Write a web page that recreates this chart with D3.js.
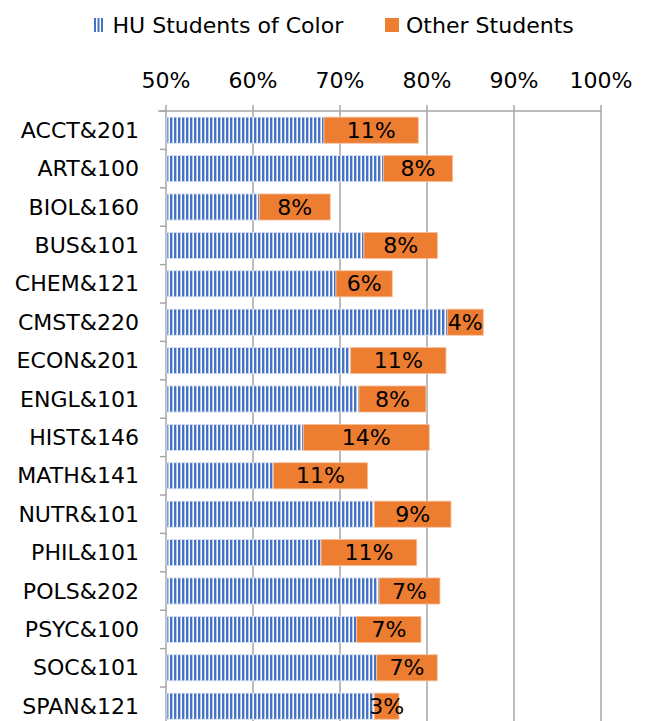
<!DOCTYPE html>
<html><head><meta charset="utf-8">
<script src="https://cdn.jsdelivr.net/npm/d3@7"></script>
<style>body{margin:0;background:#fff}svg{display:block}text{font-family:"DejaVu Sans",sans-serif;fill:#000}</style>
</head><body>
<script>
const categories = ["ACCT&201","ART&100","BIOL&160","BUS&101","CHEM&121","CMST&220","ECON&201","ENGL&101","HIST&146","MATH&141","NUTR&101","PHIL&101","POLS&202","PSYC&100","SOC&101","SPAN&121"];
const huValues   = [68.16,74.98,60.72,72.75,69.54,82.33,71.23,72.18,65.78,62.33,73.94,67.82,74.48,71.92,74.22,73.94];
const otherGap   = [10.84,7.97,8.16,8.45,6.47,4.14,10.95,7.70,14.48,10.85,8.82,11.0,7.01,7.39,6.96,2.84];
const xTicks     = [50,60,70,80,90,100];
const seriesNames = ["HU Students of Color","Other Students"];

const W=651,H=721, K=1.05, FS=21;
const svg=d3.select("body").append("svg").attr("width",W).attr("height",H);
const defs=svg.append("defs");
const pat=defs.append("pattern").attr("id","vstripe").attr("patternUnits","userSpaceOnUse")
  .attr("width",4).attr("height",4).attr("x",166);
pat.append("rect").attr("width",4).attr("height",4).attr("fill","#fff");
pat.append("rect").attr("width",2.4).attr("height",4).attr("fill","#4472C4");

const x=d3.scaleLinear().domain([50,100]).range([166,601]);
const plotTop=111, step=38.4;
const y=d3.scaleBand().domain(categories).range([plotTop, plotTop+step*categories.length]).paddingInner(0.32).paddingOuter(0.16);

function stext(g,tx,ty,str,anchor,k){
  return g.append("text").attr("transform",`translate(${tx},${ty}) scale(${k},1)`)
    .attr("text-anchor",anchor).attr("font-size",FS).text(str);
}

// gridlines
svg.append("g").selectAll("line").data(xTicks.slice(1)).join("line")
  .attr("x1",d=>x(d)).attr("x2",d=>x(d)).attr("y1",plotTop).attr("y2",H)
  .attr("stroke","#a6a6a6").attr("stroke-width",1.5);

// top axis
const ax=svg.append("g");
ax.append("line").attr("x1",158).attr("x2",x(100)).attr("y1",plotTop).attr("y2",plotTop).attr("stroke","#a6a6a6").attr("stroke-width",1.5);
ax.selectAll("line.t").data(xTicks).join("line").attr("class","t")
  .attr("x1",d=>x(d)).attr("x2",d=>x(d)).attr("y1",plotTop-6).attr("y2",plotTop).attr("stroke","#a6a6a6").attr("stroke-width",1.5);
xTicks.forEach(t=>stext(ax,x(t),87.5,t+"%","middle",K));

// left axis
const ly=svg.append("g");
ly.append("line").attr("x1",x(50)).attr("x2",x(50)).attr("y1",plotTop).attr("y2",H).attr("stroke","#a6a6a6").attr("stroke-width",1.5);
const bounds=d3.range(categories.length+1).map(i=>plotTop+i*step);
ly.selectAll("line.t").data(bounds).join("line").attr("class","t")
  .attr("x1",x(50)-6).attr("x2",x(50)).attr("y1",d=>d).attr("y2",d=>d).attr("stroke","#a6a6a6").attr("stroke-width",1.5);
categories.forEach(c=>stext(ly,139,y(c)+y.bandwidth()/2+7.6,c,"end",K));

// bars
const bars=svg.append("g");
bars.selectAll("rect.hu").data(categories).join("rect").attr("class","hu")
  .attr("x",x(50)+1).attr("y",c=>y(c)).attr("height",y.bandwidth())
  .attr("width",(c,i)=>x(huValues[i])-x(50)-1).attr("fill","url(#vstripe)")
  .attr("stroke","#dbe4f4").attr("stroke-width",0.8);
bars.selectAll("rect.ot").data(categories).join("rect").attr("class","ot")
  .attr("x",(c,i)=>x(huValues[i])).attr("y",c=>y(c)).attr("height",y.bandwidth())
  .attr("width",(c,i)=>x(huValues[i]+otherGap[i])-x(huValues[i])).attr("fill","#ED7D31")
  .attr("stroke","#f6c3a0").attr("stroke-width",0.8);
categories.forEach((c,i)=>{
  const cx=(x(huValues[i])+x(huValues[i]+otherGap[i]))/2;
  stext(bars,cx,y(c)+y.bandwidth()/2+7.6,Math.round(otherGap[i])+"%","middle",K);
});

// legend
const lg=svg.append("g");
[94,97.5,101].forEach(px=>lg.append("rect").attr("x",px).attr("y",18).attr("width",2).attr("height",14).attr("fill","#4472C4"));
stext(lg,112.5,32.5,seriesNames[0],"start",K);
lg.append("rect").attr("x",385).attr("y",18).attr("width",14).attr("height",14).attr("fill","#ED7D31");
stext(lg,406,32.5,seriesNames[1],"start",K);
</script>
</body></html>
